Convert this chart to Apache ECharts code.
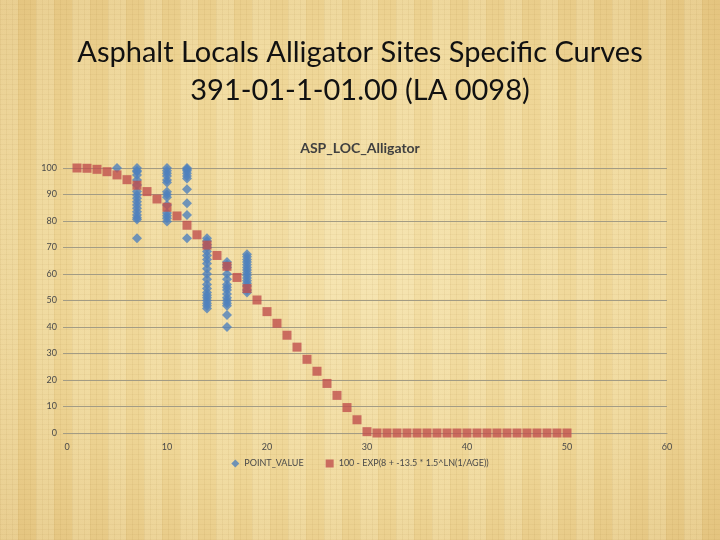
<!DOCTYPE html>
<html>
<head>
<meta charset="utf-8">
<script src="https://cdn.jsdelivr.net/npm/echarts@6/dist/echarts.min.js"></script>
<style>
html, body { margin:0; padding:0; width:720px; height:540px; overflow:hidden; }
body {
  background-color:#EFD89B;
  background-image:
    repeating-linear-gradient(90deg, rgba(150,110,40,0.07) 0px, rgba(150,110,40,0.07) 1px, rgba(0,0,0,0) 1px, rgba(0,0,0,0) 6px),
    repeating-linear-gradient(0deg, rgba(150,110,40,0.06) 0px, rgba(150,110,40,0.06) 1px, rgba(0,0,0,0) 1px, rgba(0,0,0,0) 5px),
    repeating-linear-gradient(90deg, rgba(255,250,220,0.18) 0px, rgba(255,250,220,0.18) 18px, rgba(0,0,0,0) 18px, rgba(0,0,0,0) 36px),
    radial-gradient(ellipse at center, #F4E0A8 0%, #EED595 60%, #E4C47F 100%);
}
#chart { width:720px; height:540px; }
</style>
</head>
<body>
<div id="chart"></div>
<script>
// Slide / chart texts
const slideTitleLine1 = "Asphalt Locals Alligator Sites Specific Curves";
const slideTitleLine2 = "391-01-1-01.00 (LA 0098)";
const chartTitle = "ASP_LOC_Alligator";
const pointSeriesName = "POINT_VALUE";
const curveSeriesName = "100 - EXP(8 + -13.5 * 1.5^LN(1/AGE))";

// Axis ticks
const xTicks = [0, 10, 20, 30, 40, 50, 60];
const yTicks = [0, 10, 20, 30, 40, 50, 60, 70, 80, 90, 100];

// Curve series (age, value)
const curveAges = [1,2,3,4,5,6,7,8,9,10,11,12,13,14,15,16,17,18,19,20,21,22,23,24,25,26,27,28,29,30,31,32,33,34,35,36,37,38,39,40,41,42,43,44,45,46,47,48,49,50];
const curveValues = [100.0,99.9,99.5,98.6,97.4,95.6,93.5,91.1,88.3,85.2,81.9,78.4,74.8,70.9,67.0,62.9,58.7,54.5,50.2,45.8,41.4,36.9,32.4,27.8,23.3,18.7,14.2,9.6,5.0,0.5,0,0,0,0,0,0,0,0,0,0,0,0,0,0,0,0,0,0,0,0];

// Observed points (age, value)
const pointAges = [
  5,
  7,7,7,7,7,7,7,7,7,7,7,7,7,7,7,7,7,
  10,10,10,10,10,10,10,10,10,10,10,10,10,10,
  12,12,12,12,12,12,12,12,12,12,
  14,14,14,14,14,14,14,14,14,14,14,14,14,14,14,14,14,14,14,14,
  16,16,16,16,16,16,16,16,16,16,16,16,16,16,16,
  18,18,18,18,18,18,18,18,18,18,18,18,18,18,18
];
const pointValues = [
  100,
  100,99,98.6,97.4,95.5,93.6,91.1,89.8,88.6,87.3,86,84.8,83.5,82.3,81.2,80.6,73.5,
  100,99,98,97,95.5,94.5,91,90,89,86,83,82,81,79.8,
  100,99.5,99,98,97,96,92,86.7,82.3,73.5,
  73.5,72.5,71,70,68.5,67,65.5,64,62,60,58,56,54.5,53,52,51,50,49,48,47,
  64.5,63.5,62.5,60,58,56,55,54,52.5,51,50,49,48,44.5,40,
  67.5,66.5,65.5,64.5,63.5,62.5,61.5,60.5,59.5,58.5,57.5,56.5,55.5,54,53
];

const pointData = pointAges.map((a, i) => [a, pointValues[i]]);
const curveData = curveAges.map((a, i) => [a, curveValues[i]]);

const chart = echarts.init(document.getElementById('chart'), null, { renderer: 'canvas' });
const axisColor = '#A39C84';
const labelColor = '#4A4A4A';
chart.setOption({
  backgroundColor: 'transparent',
  animation: false,
  title: [
    { text: slideTitleLine1 + "\n" + slideTitleLine2, left: 'center', top: 29,
      textStyle: { fontFamily: 'Lato', fontWeight: 'normal', fontSize: 29, color: '#111', lineHeight: 38 } },
    { text: chartTitle, left: 'center', top: 136,
      textStyle: { fontFamily: 'Lato', fontWeight: 'bold', fontSize: 14, color: '#404040' } }
  ],
  legend: {
    bottom: 67, left: 'center', itemGap: 22, itemWidth: 8, itemHeight: 8,
    textStyle: { fontFamily: 'Lato', fontSize: 9, color: labelColor },
    data: [
      { name: pointSeriesName, icon: 'diamond' },
      { name: curveSeriesName, icon: 'rect' }
    ]
  },
  grid: { left: 67, right: 53, top: 168, bottom: 107, containLabel: false },
  xAxis: {
    type: 'value', min: xTicks[0], max: xTicks[xTicks.length - 1], interval: 10,
    axisLine: { show: true, lineStyle: { color: axisColor } },
    axisTick: { show: false },
    splitLine: { show: false },
    axisLabel: { fontFamily: 'Lato', fontSize: 9, color: labelColor, margin: 10 }
  },
  yAxis: {
    type: 'value', min: yTicks[0], max: yTicks[yTicks.length - 1], interval: 10,
    axisLine: { show: false },
    axisTick: { show: true, length: 4, lineStyle: { color: axisColor } },
    splitLine: { show: true, lineStyle: { color: axisColor, width: 1 } },
    axisLabel: { fontFamily: 'Lato', fontSize: 9, color: labelColor, margin: 10 }
  },
  series: [
    { name: pointSeriesName, type: 'scatter', symbol: 'diamond', symbolSize: 10,
      itemStyle: { color: '#4F81BD' }, data: pointData },
    { name: curveSeriesName, type: 'scatter', symbol: 'rect', symbolSize: 9,
      itemStyle: { color: '#C0504D' }, data: curveData }
  ]
});
</script>
</body>
</html>
